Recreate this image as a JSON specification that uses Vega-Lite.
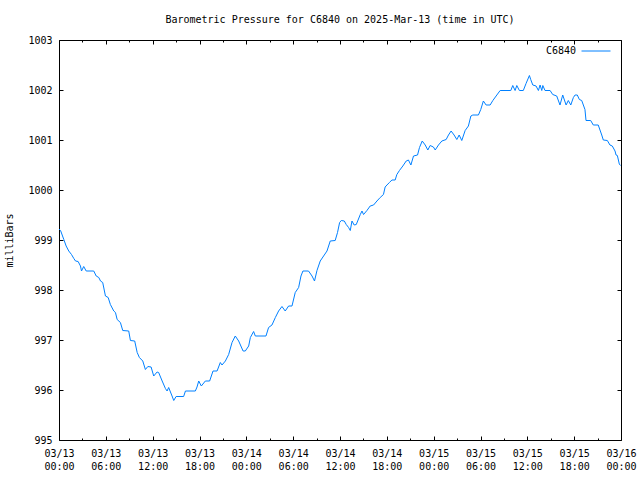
{
  "$schema": "https://vega.github.io/schema/vega-lite/v6.json",
  "width": 562,
  "height": 400,
  "autosize": {"type": "none"},
  "padding": {"left": 59, "top": 40, "right": 19, "bottom": 40},
  "background": "white",
  "title": {
    "text": "Barometric Pressure for C6840 on 2025-Mar-13 (time in UTC)",
    "font": "DejaVu Sans Mono",
    "fontSize": 10,
    "fontWeight": "normal",
    "color": "black",
    "anchor": "middle",
    "offset": 10
  },
  "config": {
    "view": {"stroke": "black", "strokeWidth": 1},
    "axis": {
      "domain": false,
      "grid": false,
      "tickColor": "black",
      "tickWidth": 1,
      "labelFont": "DejaVu Sans Mono",
      "labelFontSize": 10,
      "labelColor": "black",
      "titleFont": "DejaVu Sans Mono",
      "titleFontSize": 10,
      "titleFontWeight": "normal",
      "titleColor": "black",
      "labelFlush": false,
      "labelOverlap": false
    },
    "legend": {
      "labelFont": "DejaVu Sans Mono",
      "labelFontSize": 10,
      "labelColor": "black"
    }
  },
  "data": {
    "values": [
      {"t": "2025-03-13T00:00:00Z", "p": 999.22},
      {"t": "2025-03-13T00:12:00Z", "p": 999.19},
      {"t": "2025-03-13T00:37:00Z", "p": 999.01},
      {"t": "2025-03-13T00:55:00Z", "p": 998.88},
      {"t": "2025-03-13T01:15:00Z", "p": 998.78},
      {"t": "2025-03-13T01:36:00Z", "p": 998.71},
      {"t": "2025-03-13T01:54:00Z", "p": 998.63},
      {"t": "2025-03-13T02:07:00Z", "p": 998.58},
      {"t": "2025-03-13T02:27:00Z", "p": 998.57},
      {"t": "2025-03-13T02:45:00Z", "p": 998.48},
      {"t": "2025-03-13T02:53:00Z", "p": 998.38},
      {"t": "2025-03-13T03:10:00Z", "p": 998.47},
      {"t": "2025-03-13T03:29:00Z", "p": 998.38},
      {"t": "2025-03-13T04:27:00Z", "p": 998.38},
      {"t": "2025-03-13T04:46:00Z", "p": 998.28},
      {"t": "2025-03-13T05:06:00Z", "p": 998.25},
      {"t": "2025-03-13T05:19:00Z", "p": 998.18},
      {"t": "2025-03-13T05:36:00Z", "p": 998.15},
      {"t": "2025-03-13T05:57:00Z", "p": 997.88},
      {"t": "2025-03-13T06:18:00Z", "p": 997.85},
      {"t": "2025-03-13T06:35:00Z", "p": 997.71},
      {"t": "2025-03-13T07:01:00Z", "p": 997.58},
      {"t": "2025-03-13T07:14:00Z", "p": 997.55},
      {"t": "2025-03-13T07:27:00Z", "p": 997.41},
      {"t": "2025-03-13T07:52:00Z", "p": 997.35},
      {"t": "2025-03-13T08:10:00Z", "p": 997.19},
      {"t": "2025-03-13T08:56:00Z", "p": 997.18},
      {"t": "2025-03-13T09:09:00Z", "p": 996.99},
      {"t": "2025-03-13T09:42:00Z", "p": 996.98},
      {"t": "2025-03-13T10:01:00Z", "p": 996.75},
      {"t": "2025-03-13T10:18:00Z", "p": 996.65},
      {"t": "2025-03-13T10:44:00Z", "p": 996.58},
      {"t": "2025-03-13T11:04:00Z", "p": 996.41},
      {"t": "2025-03-13T11:23:00Z", "p": 996.47},
      {"t": "2025-03-13T11:48:00Z", "p": 996.46},
      {"t": "2025-03-13T12:08:00Z", "p": 996.28},
      {"t": "2025-03-13T12:34:00Z", "p": 996.36},
      {"t": "2025-03-13T12:46:00Z", "p": 996.35},
      {"t": "2025-03-13T13:13:00Z", "p": 996.18},
      {"t": "2025-03-13T13:38:00Z", "p": 996.03},
      {"t": "2025-03-13T13:51:00Z", "p": 995.98},
      {"t": "2025-03-13T14:03:00Z", "p": 996.05},
      {"t": "2025-03-13T14:29:00Z", "p": 995.88},
      {"t": "2025-03-13T14:42:00Z", "p": 995.79},
      {"t": "2025-03-13T15:00:00Z", "p": 995.87},
      {"t": "2025-03-13T15:58:00Z", "p": 995.87},
      {"t": "2025-03-13T16:12:00Z", "p": 995.98},
      {"t": "2025-03-13T17:28:00Z", "p": 995.98},
      {"t": "2025-03-13T17:41:00Z", "p": 996.06},
      {"t": "2025-03-13T17:54:00Z", "p": 996.18},
      {"t": "2025-03-13T18:14:00Z", "p": 996.08},
      {"t": "2025-03-13T18:45:00Z", "p": 996.18},
      {"t": "2025-03-13T19:18:00Z", "p": 996.18},
      {"t": "2025-03-13T19:31:00Z", "p": 996.28},
      {"t": "2025-03-13T19:44:00Z", "p": 996.38},
      {"t": "2025-03-13T20:15:00Z", "p": 996.38},
      {"t": "2025-03-13T20:40:00Z", "p": 996.55},
      {"t": "2025-03-13T20:53:00Z", "p": 996.5},
      {"t": "2025-03-13T21:19:00Z", "p": 996.58},
      {"t": "2025-03-13T21:44:00Z", "p": 996.71},
      {"t": "2025-03-13T22:10:00Z", "p": 996.95},
      {"t": "2025-03-13T22:35:00Z", "p": 997.08},
      {"t": "2025-03-13T23:01:00Z", "p": 996.98},
      {"t": "2025-03-13T23:35:00Z", "p": 996.78},
      {"t": "2025-03-13T23:52:00Z", "p": 996.78},
      {"t": "2025-03-14T00:18:00Z", "p": 996.88},
      {"t": "2025-03-14T00:31:00Z", "p": 997.05},
      {"t": "2025-03-14T00:56:00Z", "p": 997.17},
      {"t": "2025-03-14T01:09:00Z", "p": 997.08},
      {"t": "2025-03-14T02:31:00Z", "p": 997.08},
      {"t": "2025-03-14T02:51:00Z", "p": 997.25},
      {"t": "2025-03-14T03:17:00Z", "p": 997.3},
      {"t": "2025-03-14T03:43:00Z", "p": 997.45},
      {"t": "2025-03-14T04:08:00Z", "p": 997.58},
      {"t": "2025-03-14T04:34:00Z", "p": 997.67},
      {"t": "2025-03-14T04:59:00Z", "p": 997.58},
      {"t": "2025-03-14T05:25:00Z", "p": 997.68},
      {"t": "2025-03-14T05:51:00Z", "p": 997.68},
      {"t": "2025-03-14T06:16:00Z", "p": 997.95},
      {"t": "2025-03-14T06:42:00Z", "p": 998.05},
      {"t": "2025-03-14T07:00:00Z", "p": 998.28},
      {"t": "2025-03-14T07:15:00Z", "p": 998.38},
      {"t": "2025-03-14T07:58:00Z", "p": 998.38},
      {"t": "2025-03-14T08:25:00Z", "p": 998.28},
      {"t": "2025-03-14T08:44:00Z", "p": 998.18},
      {"t": "2025-03-14T09:03:00Z", "p": 998.39},
      {"t": "2025-03-14T09:28:00Z", "p": 998.58},
      {"t": "2025-03-14T09:54:00Z", "p": 998.68},
      {"t": "2025-03-14T10:20:00Z", "p": 998.78},
      {"t": "2025-03-14T10:45:00Z", "p": 998.98},
      {"t": "2025-03-14T11:23:00Z", "p": 998.99},
      {"t": "2025-03-14T11:41:00Z", "p": 999.15},
      {"t": "2025-03-14T11:57:00Z", "p": 999.35},
      {"t": "2025-03-14T12:10:00Z", "p": 999.39},
      {"t": "2025-03-14T12:33:00Z", "p": 999.38},
      {"t": "2025-03-14T12:48:00Z", "p": 999.31},
      {"t": "2025-03-14T13:06:00Z", "p": 999.25},
      {"t": "2025-03-14T13:19:00Z", "p": 999.19},
      {"t": "2025-03-14T13:32:00Z", "p": 999.38},
      {"t": "2025-03-14T13:49:00Z", "p": 999.3},
      {"t": "2025-03-14T14:05:00Z", "p": 999.31},
      {"t": "2025-03-14T14:36:00Z", "p": 999.51},
      {"t": "2025-03-14T14:49:00Z", "p": 999.58},
      {"t": "2025-03-14T15:01:00Z", "p": 999.51},
      {"t": "2025-03-14T15:27:00Z", "p": 999.59},
      {"t": "2025-03-14T15:52:00Z", "p": 999.68},
      {"t": "2025-03-14T16:18:00Z", "p": 999.7},
      {"t": "2025-03-14T16:44:00Z", "p": 999.78},
      {"t": "2025-03-14T17:09:00Z", "p": 999.85},
      {"t": "2025-03-14T17:34:00Z", "p": 999.91},
      {"t": "2025-03-14T17:47:00Z", "p": 1000.06},
      {"t": "2025-03-14T18:01:00Z", "p": 1000.1},
      {"t": "2025-03-14T18:20:00Z", "p": 1000.15},
      {"t": "2025-03-14T18:39:00Z", "p": 1000.2},
      {"t": "2025-03-14T19:04:00Z", "p": 1000.2},
      {"t": "2025-03-14T19:17:00Z", "p": 1000.31},
      {"t": "2025-03-14T19:37:00Z", "p": 1000.39},
      {"t": "2025-03-14T20:03:00Z", "p": 1000.48},
      {"t": "2025-03-14T20:29:00Z", "p": 1000.58},
      {"t": "2025-03-14T20:46:00Z", "p": 1000.6},
      {"t": "2025-03-14T21:05:00Z", "p": 1000.5},
      {"t": "2025-03-14T21:25:00Z", "p": 1000.68},
      {"t": "2025-03-14T21:56:00Z", "p": 1000.7},
      {"t": "2025-03-14T22:11:00Z", "p": 1000.85},
      {"t": "2025-03-14T22:32:00Z", "p": 1000.98},
      {"t": "2025-03-14T22:55:00Z", "p": 1000.9},
      {"t": "2025-03-14T23:15:00Z", "p": 1000.8},
      {"t": "2025-03-14T23:33:00Z", "p": 1000.89},
      {"t": "2025-03-14T23:58:00Z", "p": 1000.86},
      {"t": "2025-03-15T00:12:00Z", "p": 1000.8},
      {"t": "2025-03-15T00:37:00Z", "p": 1000.9},
      {"t": "2025-03-15T01:03:00Z", "p": 1000.98},
      {"t": "2025-03-15T01:36:00Z", "p": 1001.01},
      {"t": "2025-03-15T01:54:00Z", "p": 1001.1},
      {"t": "2025-03-15T02:14:00Z", "p": 1001.18},
      {"t": "2025-03-15T02:37:00Z", "p": 1001.1},
      {"t": "2025-03-15T02:58:00Z", "p": 1001.01},
      {"t": "2025-03-15T03:16:00Z", "p": 1001.1},
      {"t": "2025-03-15T03:36:00Z", "p": 1000.99},
      {"t": "2025-03-15T04:02:00Z", "p": 1001.19},
      {"t": "2025-03-15T04:27:00Z", "p": 1001.28},
      {"t": "2025-03-15T04:46:00Z", "p": 1001.48},
      {"t": "2025-03-15T05:01:00Z", "p": 1001.5},
      {"t": "2025-03-15T05:44:00Z", "p": 1001.5},
      {"t": "2025-03-15T06:02:00Z", "p": 1001.61},
      {"t": "2025-03-15T06:22:00Z", "p": 1001.78},
      {"t": "2025-03-15T06:43:00Z", "p": 1001.7},
      {"t": "2025-03-15T07:14:00Z", "p": 1001.7},
      {"t": "2025-03-15T07:35:00Z", "p": 1001.79},
      {"t": "2025-03-15T08:00:00Z", "p": 1001.88},
      {"t": "2025-03-15T08:31:00Z", "p": 1001.99},
      {"t": "2025-03-15T09:53:00Z", "p": 1001.99},
      {"t": "2025-03-15T10:08:00Z", "p": 1002.09},
      {"t": "2025-03-15T10:26:00Z", "p": 1001.99},
      {"t": "2025-03-15T10:39:00Z", "p": 1002.09},
      {"t": "2025-03-15T10:59:00Z", "p": 1001.99},
      {"t": "2025-03-15T11:29:00Z", "p": 1001.99},
      {"t": "2025-03-15T11:50:00Z", "p": 1002.13},
      {"t": "2025-03-15T12:16:00Z", "p": 1002.29},
      {"t": "2025-03-15T12:26:00Z", "p": 1002.21},
      {"t": "2025-03-15T12:42:00Z", "p": 1002.1},
      {"t": "2025-03-15T13:07:00Z", "p": 1002.08},
      {"t": "2025-03-15T13:25:00Z", "p": 1001.99},
      {"t": "2025-03-15T13:38:00Z", "p": 1002.1},
      {"t": "2025-03-15T13:51:00Z", "p": 1001.99},
      {"t": "2025-03-15T13:59:00Z", "p": 1002.09},
      {"t": "2025-03-15T14:16:00Z", "p": 1001.99},
      {"t": "2025-03-15T14:55:00Z", "p": 1001.99},
      {"t": "2025-03-15T15:15:00Z", "p": 1001.91},
      {"t": "2025-03-15T15:46:00Z", "p": 1001.88},
      {"t": "2025-03-15T16:11:00Z", "p": 1001.7},
      {"t": "2025-03-15T16:32:00Z", "p": 1001.9},
      {"t": "2025-03-15T16:58:00Z", "p": 1001.7},
      {"t": "2025-03-15T17:15:00Z", "p": 1001.79},
      {"t": "2025-03-15T17:34:00Z", "p": 1001.7},
      {"t": "2025-03-15T17:54:00Z", "p": 1001.85},
      {"t": "2025-03-15T18:07:00Z", "p": 1001.9},
      {"t": "2025-03-15T18:24:00Z", "p": 1001.9},
      {"t": "2025-03-15T18:40:00Z", "p": 1001.81},
      {"t": "2025-03-15T18:58:00Z", "p": 1001.79},
      {"t": "2025-03-15T19:23:00Z", "p": 1001.61},
      {"t": "2025-03-15T19:31:00Z", "p": 1001.39},
      {"t": "2025-03-15T20:07:00Z", "p": 1001.39},
      {"t": "2025-03-15T20:27:00Z", "p": 1001.3},
      {"t": "2025-03-15T21:05:00Z", "p": 1001.3},
      {"t": "2025-03-15T21:32:00Z", "p": 1001.1},
      {"t": "2025-03-15T21:44:00Z", "p": 1001.0},
      {"t": "2025-03-15T22:15:00Z", "p": 1000.99},
      {"t": "2025-03-15T22:35:00Z", "p": 1000.9},
      {"t": "2025-03-15T22:53:00Z", "p": 1000.88},
      {"t": "2025-03-15T23:14:00Z", "p": 1000.78},
      {"t": "2025-03-15T23:22:00Z", "p": 1000.7},
      {"t": "2025-03-15T23:32:00Z", "p": 1000.69},
      {"t": "2025-03-15T23:47:00Z", "p": 1000.52},
      {"t": "2025-03-15T23:56:00Z", "p": 1000.49}
    ]
  },
  "resolve": {"axis": {"x": "independent", "y": "independent"}},
  "layer": [
    {
      "mark": {"type": "line", "strokeWidth": 1, "interpolate": "linear"},
      "encoding": {
        "x": {
          "field": "t", "type": "temporal",
          "scale": {"type": "utc", "domain": [1741824000000, 1742083200000]},
          "axis": {
            "orient": "bottom",
            "title": null,
            "values": [1741824000000, 1741845600000, 1741867200000, 1741888800000, 1741910400000, 1741932000000, 1741953600000, 1741975200000, 1741996800000, 1742018400000, 1742040000000, 1742061600000, 1742083200000],
            "offset": -4,
            "tickSize": 4,
            "labelPadding": 8,
            "labelLineHeight": 13,
            "labelExpr": "[utcFormat(datum.value, '%m/%d'), utcFormat(datum.value, '%H:%M')]"
          }
        },
        "y": {
          "field": "p", "type": "quantitative",
          "scale": {"domain": [995, 1003], "nice": false, "zero": false},
          "axis": {
            "orient": "left",
            "title": "milliBars",
            "values": [995, 996, 997, 998, 999, 1000, 1001, 1002, 1003],
            "format": "d",
            "offset": -4,
            "tickSize": 4,
            "labelPadding": 7,
            "titlePadding": 13
          }
        },
        "color": {
          "datum": "C6840", "type": "nominal",
          "scale": {"range": ["#0080ff"]},
          "legend": {
            "orient": "none",
            "legendX": 522,
            "legendY": -4,
            "title": null,
            "padding": 0,
            "symbolType": "stroke",
            "symbolSize": 841,
            "symbolStrokeWidth": 1,
            "labelAlign": "right",
            "labelOffset": -35
          }
        }
      }
    },
    {
      "mark": {"type": "line", "opacity": 0},
      "encoding": {
        "x": {
          "field": "t", "type": "temporal",
          "axis": {"orient": "top", "title": null, "labels": false, "values": [1741824000000, 1741845600000, 1741867200000, 1741888800000, 1741910400000, 1741932000000, 1741953600000, 1741975200000, 1741996800000, 1742018400000, 1742040000000, 1742061600000, 1742083200000], "offset": -4, "tickSize": 4}
        },
        "y": {
          "field": "p", "type": "quantitative",
          "axis": {"orient": "right", "title": null, "labels": false, "values": [995, 996, 997, 998, 999, 1000, 1001, 1002, 1003], "offset": -4, "tickSize": 4}
        }
      }
    },
    {
      "mark": {"type": "line", "opacity": 0},
      "encoding": {
        "x": {
          "field": "t", "type": "temporal",
          "axis": {"orient": "bottom", "title": null, "labels": false, "values": [1741834800000, 1741856400000, 1741878000000, 1741899600000, 1741921200000, 1741942800000, 1741964400000, 1741986000000, 1742007600000, 1742029200000, 1742050800000, 1742072400000], "offset": -2, "tickSize": 2}
        },
        "y": {"field": "p", "type": "quantitative", "axis": null}
      }
    },
    {
      "mark": {"type": "line", "opacity": 0},
      "encoding": {
        "x": {
          "field": "t", "type": "temporal",
          "axis": {"orient": "top", "title": null, "labels": false, "values": [1741834800000, 1741856400000, 1741878000000, 1741899600000, 1741921200000, 1741942800000, 1741964400000, 1741986000000, 1742007600000, 1742029200000, 1742050800000, 1742072400000], "offset": -2, "tickSize": 2}
        },
        "y": {"field": "p", "type": "quantitative", "axis": null}
      }
    }
  ]
}
